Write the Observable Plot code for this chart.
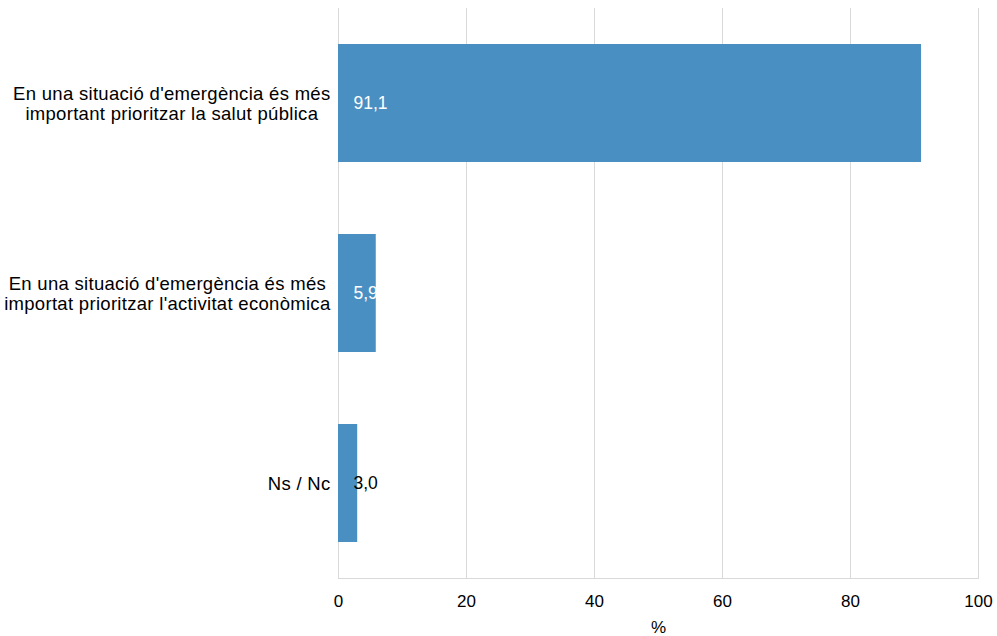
<!DOCTYPE html>
<html>
<head>
<meta charset="utf-8">
<script src="https://cdn.jsdelivr.net/npm/d3@7"></script>
<script src="https://cdn.jsdelivr.net/npm/@observablehq/plot@0.6"></script>
<style>
  html, body { margin: 0; padding: 0; background: #fff; }
  #chart svg { display: block; }
  #chart svg g.catlabel text { letter-spacing: 0.3px; }
</style>
</head>
<body>
<div id="chart"></div>
<script>
const categories = [
  "En una situació d'emergència és més\nimportant prioritzar la salut pública",
  "En una situació d'emergència és més\nimportat prioritzar l'activitat econòmica",
  "Ns / Nc"
];
const values = [91.1, 5.9, 3.0];
const valueLabels = ["91,1", "5,9", "3,0"];
const labelColors = ["white", "white", "black"];
const xTicks = [0, 20, 40, 60, 80, 100];
const axisTitle = "%";

const FONT = "Liberation Sans, Arial, sans-serif";
const FS = 17;
const CFS = 18.5;
const LS = 0.3;
const data = categories.map((c, i) => ({cat: c, value: values[i], label: valueLabels[i], color: labelColors[i]}));

// measure widest line of each category label so each block is centred on its own width
const ctx = document.createElement("canvas").getContext("2d");
ctx.font = `${CFS}px ${FONT}`;
const catMarks = data.map(d => {
  const w = d3.max(d.cat.split("\n"), l => ctx.measureText(l).width + l.length * LS);
  return Plot.text([d], {
    y: "cat", text: "cat", frameAnchor: "left",
    dx: -(8 + w / 2), textAnchor: "middle", lineAnchor: "middle",
    lineHeight: 1.08, fill: "#000", fontSize: CFS, className: "catlabel"
  });
});

const chart = Plot.plot({
  width: 997,
  height: 636,
  marginLeft: 338,
  marginRight: 19,
  marginTop: 8,
  marginBottom: 58,
  style: {fontFamily: FONT, fontSize: FS + "px", color: "#000", background: "#fff"},
  x: {domain: [0, 100], ticks: xTicks, label: null},
  y: {domain: categories, paddingInner: 0.38, paddingOuter: 0.19, axis: null},
  marks: [
    Plot.gridX(xTicks, {stroke: "#d9d9d9", strokeOpacity: 1, strokeWidth: 1}),
    Plot.frame({anchor: "bottom", stroke: "#d9d9d9"}),
    Plot.barX(data, {x: "value", y: "cat", fill: "#4a8fc2"}),
    Plot.text(data, {x: 0, y: "cat", text: "label", fill: "color", textAnchor: "start", dx: 15, fontSize: 17.5}),
    Plot.axisX(xTicks, {tickSize: 0, tickPadding: 16, fontSize: FS, tickFormat: d => String(d), label: null}),
    Plot.text([axisTitle], {frameAnchor: "bottom", dy: 54, fontSize: FS, fill: "#000"}),
    ...catMarks
  ]
});
document.getElementById("chart").appendChild(chart);
</script>
</body>
</html>
